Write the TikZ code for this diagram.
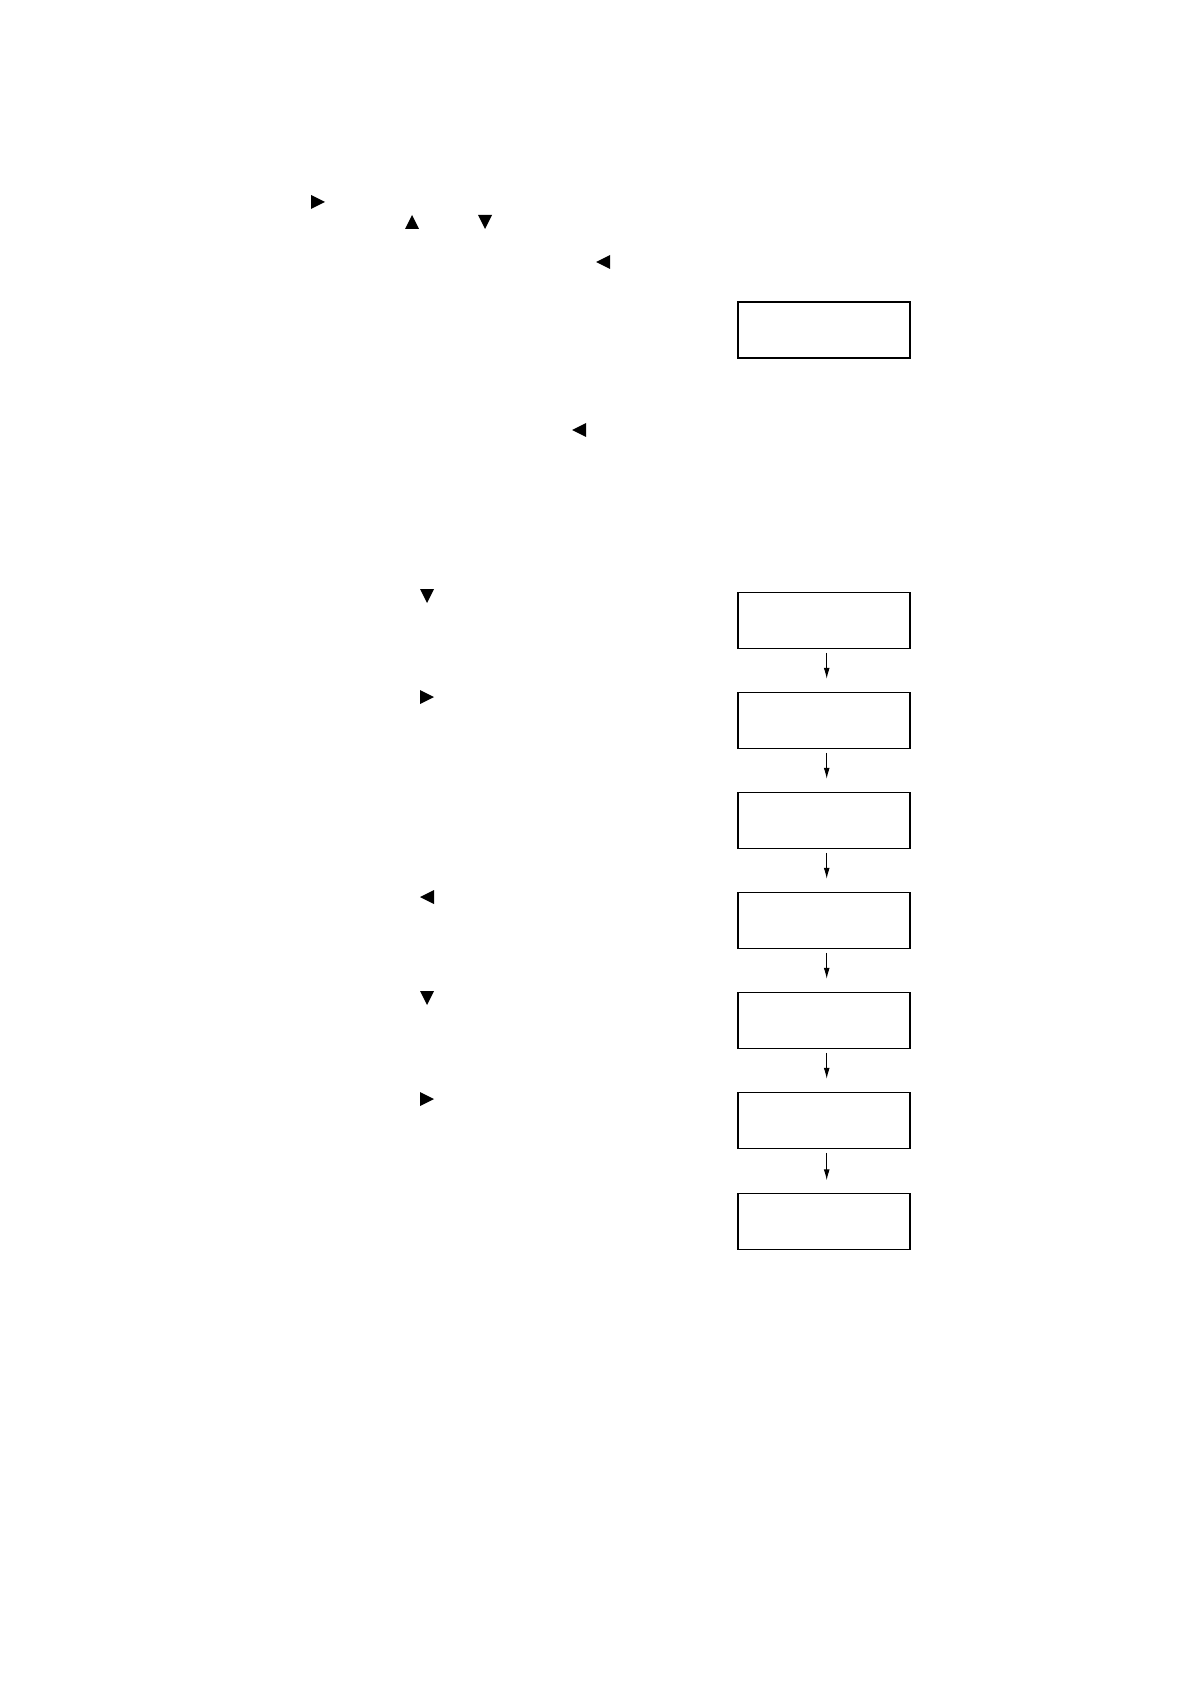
\documentclass[tikz,border=0pt]{standalone}
\usetikzlibrary{arrows.meta}
\tikzset{
  lcd/.style={draw=black, line width=0.55pt, minimum width=86pt, minimum height=28pt, inner sep=0pt},
  flow/.style={draw=black, line width=0.5pt, -{Latex[length=5.5pt,width=3pt]}, shorten <=2pt, shorten >=6.5pt},
  tright/.pic={\fill (-7,-7) -- (7,0) -- (-7,7) -- cycle;},
  tleft/.pic={\fill (7,-7) -- (-7,0) -- (7,7) -- cycle;},
  tdown/.pic={\fill (-7,-7) -- (7,-7) -- (0,7) -- cycle;},
  tup/.pic={\fill (-7,7) -- (7,7) -- (0,-7) -- cycle;},
}
\begin{document}
\begin{tikzpicture}[x=0.5pt,y=-0.5pt]
\useasboundingbox (0,0) rectangle (1190,1684);
% top instruction triangles
\pic at (318,202) {tright};
\pic at (412,222) {tup};
\pic at (485,222) {tdown};
\pic at (603,262) {tleft};
\pic at (579,430) {tleft};
% first display box
\node[lcd] (d0) at (824,330) {};
% column triangles
\pic at (427,596) {tdown};
\pic at (427,697) {tright};
\pic at (427,897) {tleft};
\pic at (427,998) {tdown};
\pic at (427,1099) {tright};
% display sequence
\node[lcd] (b1) at (824,620.3) {};
\node[lcd] (b2) at (824,720.3) {};
\node[lcd] (b3) at (824,820.3) {};
\node[lcd] (b4) at (824,920.3) {};
\node[lcd] (b5) at (824,1020.3) {};
\node[lcd] (b6) at (824,1120.3) {};
\node[lcd] (b7) at (824,1221.8) {};
\foreach \a/\b in {b1/b2,b2/b3,b3/b4,b4/b5,b5/b6,b6/b7}
  \draw[flow] ([xshift=1.35pt]\a.south) -- ([xshift=1.35pt]\b.north);
\end{tikzpicture}
\end{document}
